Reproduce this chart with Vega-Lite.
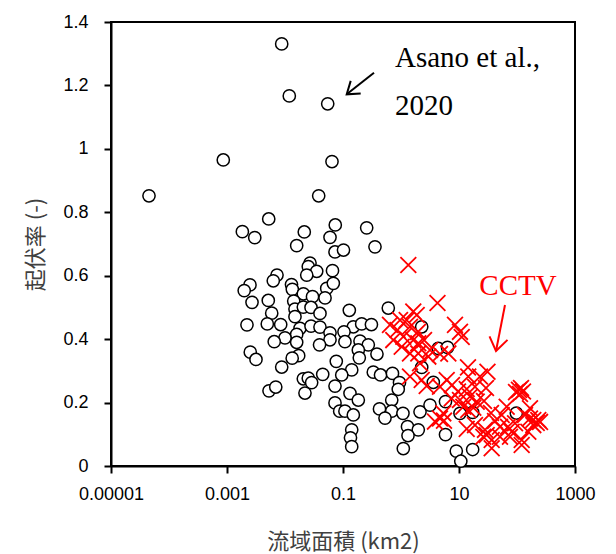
{
  "$schema": "https://vega.github.io/schema/vega-lite/v6.json",
  "autosize": "none",
  "width": 464,
  "height": 444,
  "padding": {"left": 111, "top": 22, "right": 41, "bottom": 88},
  "background": "white",
  "config": {"view": {"stroke": "black", "strokeWidth": 2}},
  "datasets": {
    "circles": [
      {"area": 0.00877, "relief": 1.331}, {"area": 0.01186, "relief": 1.167}, {"area": 0.0545, "relief": 1.142},
      {"area": 0.000863, "relief": 0.965}, {"area": 0.0646, "relief": 0.960}, {"area": 0.0000452, "relief": 0.852},
      {"area": 0.0381, "relief": 0.852}, {"area": 0.00524, "relief": 0.779}, {"area": 0.00184, "relief": 0.739},
      {"area": 0.00301, "relief": 0.720}, {"area": 0.0215, "relief": 0.738}, {"area": 0.0736, "relief": 0.760},
      {"area": 0.0597, "relief": 0.721}, {"area": 0.0159, "relief": 0.695}, {"area": 0.0728, "relief": 0.675},
      {"area": 0.256, "relief": 0.751}, {"area": 0.356, "relief": 0.691}, {"area": 0.102, "relief": 0.681},
      {"area": 0.0270, "relief": 0.640}, {"area": 0.0252, "relief": 0.629}, {"area": 0.0352, "relief": 0.614},
      {"area": 0.0237, "relief": 0.602}, {"area": 0.0659, "relief": 0.616}, {"area": 0.00728, "relief": 0.602},
      {"area": 0.00628, "relief": 0.584}, {"area": 0.00249, "relief": 0.571}, {"area": 0.00198, "relief": 0.553},
      {"area": 0.01294, "relief": 0.572}, {"area": 0.01337, "relief": 0.557}, {"area": 0.0524, "relief": 0.560},
      {"area": 0.0681, "relief": 0.576}, {"area": 0.00270, "relief": 0.516}, {"area": 0.00515, "relief": 0.522},
      {"area": 0.0207, "relief": 0.543}, {"area": 0.0298, "relief": 0.534}, {"area": 0.0490, "relief": 0.530},
      {"area": 0.01413, "relief": 0.520}, {"area": 0.00590, "relief": 0.482}, {"area": 0.01486, "relief": 0.495},
      {"area": 0.0207, "relief": 0.501}, {"area": 0.0281, "relief": 0.500}, {"area": 0.0401, "relief": 0.481},
      {"area": 0.01486, "relief": 0.471}, {"area": 0.00221, "relief": 0.445}, {"area": 0.00495, "relief": 0.448},
      {"area": 0.00843, "relief": 0.446}, {"area": 0.01816, "relief": 0.434}, {"area": 0.0281, "relief": 0.441},
      {"area": 0.0401, "relief": 0.438}, {"area": 0.0597, "relief": 0.420}, {"area": 0.0597, "relief": 0.398},
      {"area": 0.0394, "relief": 0.382}, {"area": 0.0159, "relief": 0.415}, {"area": 0.0159, "relief": 0.390},
      {"area": 0.0100, "relief": 0.404}, {"area": 0.00652, "relief": 0.392}, {"area": 0.00252, "relief": 0.359},
      {"area": 0.00316, "relief": 0.336}, {"area": 0.01722, "relief": 0.348}, {"area": 0.0133, "relief": 0.340},
      {"area": 0.00877, "relief": 0.312}, {"area": 0.0766, "relief": 0.330}, {"area": 0.0207, "relief": 0.275},
      {"area": 0.0252, "relief": 0.277}, {"area": 0.0288, "relief": 0.263}, {"area": 0.0447, "relief": 0.289},
      {"area": 0.0221, "relief": 0.230}, {"area": 0.00530, "relief": 0.237}, {"area": 0.00693, "relief": 0.249},
      {"area": 0.0728, "relief": 0.252}, {"area": 0.0728, "relief": 0.199}, {"area": 0.0877, "relief": 0.173},
      {"area": 0.1285, "relief": 0.491}, {"area": 0.604, "relief": 0.498}, {"area": 0.1507, "relief": 0.439},
      {"area": 0.2099, "relief": 0.448}, {"area": 0.309, "relief": 0.446}, {"area": 0.104, "relief": 0.423},
      {"area": 0.108, "relief": 0.392}, {"area": 0.1963, "relief": 0.394}, {"area": 0.273, "relief": 0.382},
      {"area": 0.385, "relief": 0.353}, {"area": 0.1837, "relief": 0.366}, {"area": 0.191, "relief": 0.341},
      {"area": 0.1413, "relief": 0.303}, {"area": 0.0951, "relief": 0.287}, {"area": 0.333, "relief": 0.296},
      {"area": 0.4436, "relief": 0.287}, {"area": 0.713, "relief": 0.292}, {"area": 0.942, "relief": 0.263},
      {"area": 0.897, "relief": 0.242}, {"area": 2.275, "relief": 0.311}, {"area": 3.606, "relief": 0.264},
      {"area": 4.395, "relief": 0.371}, {"area": 6.34, "relief": 0.374}, {"area": 2.275, "relief": 0.439},
      {"area": 0.132, "relief": 0.229}, {"area": 0.1837, "relief": 0.208}, {"area": 0.108, "relief": 0.173},
      {"area": 0.1507, "relief": 0.161}, {"area": 0.1413, "relief": 0.114}, {"area": 0.1346, "relief": 0.089},
      {"area": 0.1413, "relief": 0.061}, {"area": 0.4256, "relief": 0.180}, {"area": 0.692, "relief": 0.208},
      {"area": 0.692, "relief": 0.173}, {"area": 0.530, "relief": 0.151}, {"area": 1.081, "relief": 0.166},
      {"area": 1.294, "relief": 0.124}, {"area": 1.986, "relief": 0.114}, {"area": 1.321, "relief": 0.096},
      {"area": 2.128, "relief": 0.171}, {"area": 3.162, "relief": 0.192}, {"area": 1.096, "relief": 0.055},
      {"area": 5.85, "relief": 0.099}, {"area": 8.98, "relief": 0.047}, {"area": 10.74, "relief": 0.015},
      {"area": 17.2, "relief": 0.052}, {"area": 5.85, "relief": 0.203}, {"area": 10.4, "relief": 0.166},
      {"area": 17.2, "relief": 0.169}, {"area": 97.3, "relief": 0.167}
    ],
    "crosses": [
      {"area": 1.337, "relief": 0.634}, {"area": 4.256, "relief": 0.514}, {"area": 1.629, "relief": 0.487},
      {"area": 0.962, "relief": 0.460}, {"area": 1.253, "relief": 0.460}, {"area": 1.866, "relief": 0.476},
      {"area": 0.646, "relief": 0.445}, {"area": 0.871, "relief": 0.429}, {"area": 1.429, "relief": 0.439},
      {"area": 1.963, "relief": 0.423}, {"area": 1.096, "relief": 0.408}, {"area": 0.736, "relief": 0.397},
      {"area": 1.629, "relief": 0.397}, {"area": 2.495, "relief": 0.397}, {"area": 8.53, "relief": 0.445},
      {"area": 10.4, "relief": 0.423}, {"area": 11.14, "relief": 0.407}, {"area": 1.028, "relief": 0.376},
      {"area": 1.986, "relief": 0.387}, {"area": 3.162, "relief": 0.366}, {"area": 4.70, "relief": 0.353},
      {"area": 6.55, "relief": 0.355}, {"area": 2.958, "relief": 0.345}, {"area": 1.429, "relief": 0.355},
      {"area": 1.986, "relief": 0.355}, {"area": 2.128, "relief": 0.324}, {"area": 1.429, "relief": 0.282},
      {"area": 2.275, "relief": 0.271}, {"area": 2.773, "relief": 0.252}, {"area": 4.70, "relief": 0.250},
      {"area": 6.14, "relief": 0.271}, {"area": 4.70, "relief": 0.150}, {"area": 3.855, "relief": 0.140},
      {"area": 5.36, "relief": 0.166}, {"area": 14.29, "relief": 0.311}, {"area": 30.97, "relief": 0.297},
      {"area": 23.0, "relief": 0.282}, {"area": 14.45, "relief": 0.282}, {"area": 7.57, "relief": 0.255},
      {"area": 9.61, "relief": 0.235}, {"area": 13.58, "relief": 0.243}, {"area": 18.88, "relief": 0.250},
      {"area": 29.2, "relief": 0.246}, {"area": 7.48, "relief": 0.213}, {"area": 10.4, "relief": 0.208},
      {"area": 15.49, "relief": 0.219}, {"area": 20.2, "relief": 0.203}, {"area": 26.98, "relief": 0.205},
      {"area": 11.86, "relief": 0.187}, {"area": 17.66, "relief": 0.184}, {"area": 14.45, "relief": 0.177},
      {"area": 35.6, "relief": 0.167}, {"area": 5.51, "relief": 0.143}, {"area": 13.58, "relief": 0.117},
      {"area": 28.05, "relief": 0.114}, {"area": 41.8, "relief": 0.142}, {"area": 54.5, "relief": 0.161},
      {"area": 66.4, "relief": 0.187}, {"area": 50.9, "relief": 0.124}, {"area": 70.0, "relief": 0.124},
      {"area": 92.5, "relief": 0.135}, {"area": 108.2, "relief": 0.240}, {"area": 112.7, "relief": 0.227},
      {"area": 96.2, "relief": 0.233}, {"area": 126.8, "relief": 0.235}, {"area": 117.2, "relief": 0.246},
      {"area": 191, "relief": 0.145}, {"area": 218.8, "relief": 0.136}, {"area": 167.5, "relief": 0.150},
      {"area": 232.8, "relief": 0.145}, {"area": 249.5, "relief": 0.139}, {"area": 167.5, "relief": 0.182},
      {"area": 137.4, "relief": 0.161}, {"area": 191, "relief": 0.129}, {"area": 36.6, "relief": 0.082},
      {"area": 50.9, "relief": 0.092}, {"area": 75.7, "relief": 0.092}, {"area": 120.5, "relief": 0.082},
      {"area": 120.5, "relief": 0.066}, {"area": 36.6, "relief": 0.056}, {"area": 26.2, "relief": 0.092},
      {"area": 156.7, "relief": 0.108}, {"area": 18.88, "relief": 0.129}, {"area": 30.06, "relief": 0.098},
      {"area": 81.1, "relief": 0.108}
    ],
    "arrows": [
      {"arrow": "asano_shaft", "color": "black", "ord": 1, "area": 0.3423, "relief": 1.240},
      {"arrow": "asano_shaft", "color": "black", "ord": 2, "area": 0.1158, "relief": 1.172},
      {"arrow": "asano_head", "color": "black", "ord": 1, "area": 0.2019, "relief": 1.1746},
      {"arrow": "asano_head", "color": "black", "ord": 2, "area": 0.1158, "relief": 1.172},
      {"arrow": "asano_head", "color": "black", "ord": 3, "area": 0.1358, "relief": 1.2143},
      {"arrow": "cctv_shaft", "color": "red", "ord": 1, "area": 62.1, "relief": 0.5077},
      {"arrow": "cctv_shaft", "color": "red", "ord": 2, "area": 43.45, "relief": 0.3626},
      {"arrow": "cctv_head", "color": "red", "ord": 1, "area": 68.6, "relief": 0.3976},
      {"arrow": "cctv_head", "color": "red", "ord": 2, "area": 43.45, "relief": 0.3626},
      {"arrow": "cctv_head", "color": "red", "ord": 3, "area": 33.57, "relief": 0.4087}
    ],
    "labels": [
      {"text": "Asano et al.,", "color": "black", "area": 0.788, "relief": 1.259},
      {"text": "2020", "color": "black", "area": 0.788, "relief": 1.107},
      {"text": "CCTV", "color": "red", "area": 22.4, "relief": 0.539}
    ]
  },
  "encoding": {
    "x": {
      "field": "area", "type": "quantitative",
      "scale": {"type": "log", "domain": [0.00001, 1000], "nice": false},
      "axis": {
        "title": "流域面積 (km2)",
        "values": [0.00001, 0.001, 0.1, 10, 1000],
        "format": "~f",
        "grid": false,
        "domainColor": "black", "domainWidth": 2,
        "tickColor": "black", "tickWidth": 2, "tickSize": 7,
        "labelFont": "Liberation Sans", "labelFontSize": 18, "labelColor": "black",
        "labelPadding": 12, "labelFlush": false, "labelOverlap": false,
        "titleFont": "Noto Sans CJK JP", "titleFontSize": 22, "titleFontWeight": "normal", "titleColor": "#404040",
        "titleX": 232, "titleY": 75, "titleAlign": "center", "titleBaseline": "middle"
      }
    },
    "y": {
      "field": "relief", "type": "quantitative",
      "scale": {"domain": [0, 1.4], "nice": false, "zero": false},
      "axis": {
        "title": "起伏率 (-)",
        "values": [0, 0.2, 0.4, 0.6, 0.8, 1, 1.2, 1.4],
        "format": ".1~f",
        "grid": false,
        "domainColor": "black", "domainWidth": 2,
        "tickColor": "black", "tickWidth": 2, "tickSize": 7,
        "labelFont": "Liberation Sans", "labelFontSize": 18, "labelColor": "black",
        "labelPadding": 16, "labelFlush": false, "labelOverlap": false,
        "titleFont": "Noto Sans CJK JP", "titleFontSize": 22, "titleFontWeight": "normal", "titleColor": "#404040",
        "titleX": -76, "titleY": 222, "titleAngle": -90, "titleAlign": "center", "titleBaseline": "middle"
      }
    }
  },
  "layer": [
    {
      "data": {"name": "circles"},
      "mark": {"type": "point", "shape": "circle", "size": 150, "filled": false, "fill": "white", "fillOpacity": 1, "stroke": "black", "strokeWidth": 1.5, "opacity": 1}
    },
    {
      "data": {"name": "crosses"},
      "mark": {"type": "point", "shape": "M-1,-1L1,1M-1,1L1,-1", "size": 250, "filled": false, "stroke": "#ff0000", "strokeWidth": 1.8, "opacity": 1}
    },
    {
      "data": {"name": "arrows"},
      "mark": {"type": "line", "strokeWidth": 2, "interpolate": "linear"},
      "encoding": {
        "detail": {"field": "arrow"},
        "order": {"field": "ord"},
        "color": {"field": "color", "type": "nominal", "scale": null}
      }
    },
    {
      "data": {"name": "labels"},
      "mark": {"type": "text", "font": "Liberation Serif", "fontSize": 29, "align": "left", "baseline": "alphabetic"},
      "encoding": {
        "text": {"field": "text"},
        "color": {"field": "color", "type": "nominal", "scale": null}
      }
    }
  ]
}
